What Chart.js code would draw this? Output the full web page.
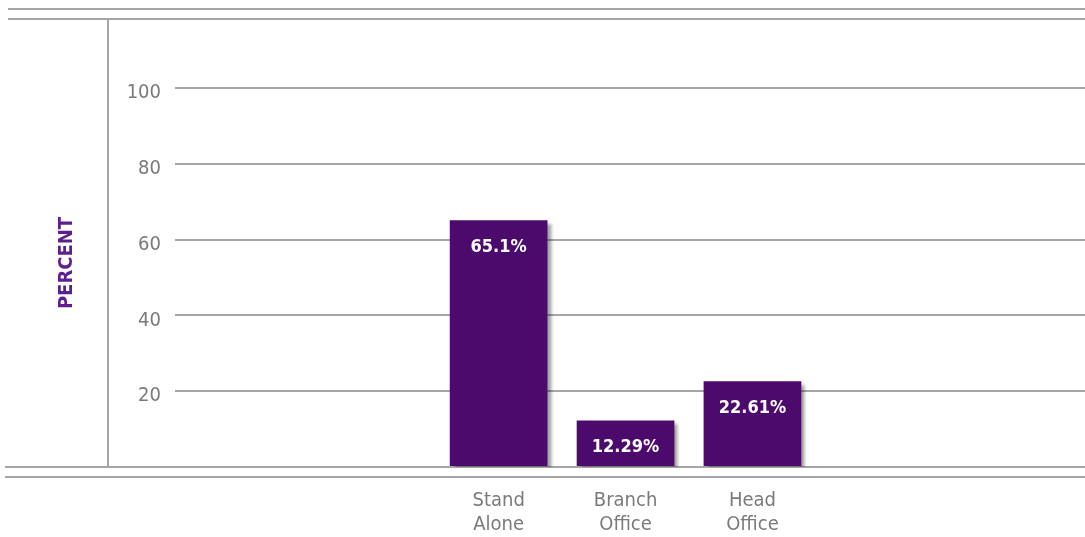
<!DOCTYPE html>
<html>
<head>
<meta charset="utf-8">
<script src="https://cdn.jsdelivr.net/npm/chart.js@4/dist/chart.umd.min.js"></script>
<style>
  html, body { margin: 0; padding: 0; background: #fff; }
  #wrap { width: 1085px; height: 537px; }
</style>
</head>
<body>
<div id="wrap"><canvas id="officeChart" width="1085" height="537"></canvas></div>
<script>
// data
const categories = [['Stand', 'Alone'], ['Branch', 'Office'], ['Head', 'Office']];
const percentValues = [65.1, 12.29, 22.61];
const valueLabels = ['65.1%', '12.29%', '22.61%'];
const yTicks = [20, 40, 60, 80, 100];

const FONT = "'Liberation Sans Narrow', 'DejaVu Sans Condensed', 'Arial Narrow', sans-serif";
const LINE = '#a6a6a6';
const BAR = '#4b0a6c';

// frame lines, axis title and bar labels
const framePlugin = {
  id: 'frame',
  beforeDraw(chart) {
    const ctx = chart.ctx;
    ctx.save();
    ctx.strokeStyle = LINE;
    ctx.lineWidth = 2;
    ctx.beginPath();
    ctx.moveTo(8, 9); ctx.lineTo(1085, 9);
    ctx.moveTo(8, 19); ctx.lineTo(1085, 19);
    ctx.moveTo(108, 19); ctx.lineTo(108, 467);
    ctx.moveTo(5, 467); ctx.lineTo(1085, 467);
    ctx.moveTo(5, 477); ctx.lineTo(1085, 477);
    ctx.stroke();

    ctx.translate(67, 263);
    ctx.rotate(-Math.PI / 2);
    ctx.fillStyle = '#5e1f8e';
    ctx.font = 'bold 20px ' + FONT;
    ctx.textAlign = 'center';
    ctx.textBaseline = 'middle';
    ctx.fillText('PERCENT', 0, 0);
    ctx.restore();
  },
  beforeDatasetsDraw(chart) {
    const ctx = chart.ctx;
    ctx.save();
    ctx.shadowColor = 'rgba(0,0,0,0.35)';
    ctx.shadowOffsetX = 4;
    ctx.shadowOffsetY = 4;
    ctx.shadowBlur = 3;
  },
  afterDatasetsDraw(chart) {
    const ctx = chart.ctx;
    ctx.restore();
    ctx.save();
    ctx.fillStyle = '#ffffff';
    ctx.font = 'bold 18px ' + FONT;
    ctx.textAlign = 'center';
    ctx.textBaseline = 'middle';
    chart.getDatasetMeta(0).data.forEach((bar, i) => {
      ctx.fillText(valueLabels[i], bar.x, bar.y + 27);
    });
    ctx.restore();
  }
};

new Chart(document.getElementById('officeChart'), {
  type: 'bar',
  data: {
    datasets: [{
      data: percentValues.map((v, i) => ({ x: i, y: v })),
      backgroundColor: BAR,
      borderWidth: 0,
      categoryPercentage: 1,
      barPercentage: 0.77
    }]
  },
  options: {
    responsive: false,
    animation: false,
    layout: { padding: { top: 88, left: 0, right: 0, bottom: 0 } },
    plugins: { legend: { display: false }, tooltip: { enabled: false } },
    scales: {
      x: {
        type: 'linear',
        offset: false,
        min: -2.55,
        max: 4.62,
        grid: { display: false },
        border: { display: false },
        afterFit(scale) { scale.height = 70; },
        afterBuildTicks(scale) {
          scale.ticks = categories.map((c, i) => ({ value: i }));
        },
        ticks: {
          autoSkip: false,
          maxRotation: 0,
          padding: 14,
          color: '#7a7a7a',
          font: { family: FONT, size: 20 },
          callback(v) {
            return categories[v] || '';
          }
        }
      },
      y: {
        min: 0,
        max: 100,
        afterFit(scale) { scale.width = 175; },
        afterBuildTicks(scale) {
          scale.ticks = [0].concat(yTicks).map(v => ({ value: v }));
        },
        grid: { color: LINE, lineWidth: 2, drawTicks: false },
        border: { display: false },
        ticks: {
          padding: 14,
          color: '#7a7a7a',
          font: { family: FONT, size: 20, lineHeight: '10px' },
          // empty first line nudges the number a little below its grid line
          callback(v) { return v === 0 ? '' : ['', String(v)]; }
        }
      }
    }
  },
  plugins: [framePlugin]
});
</script>
</body>
</html>
